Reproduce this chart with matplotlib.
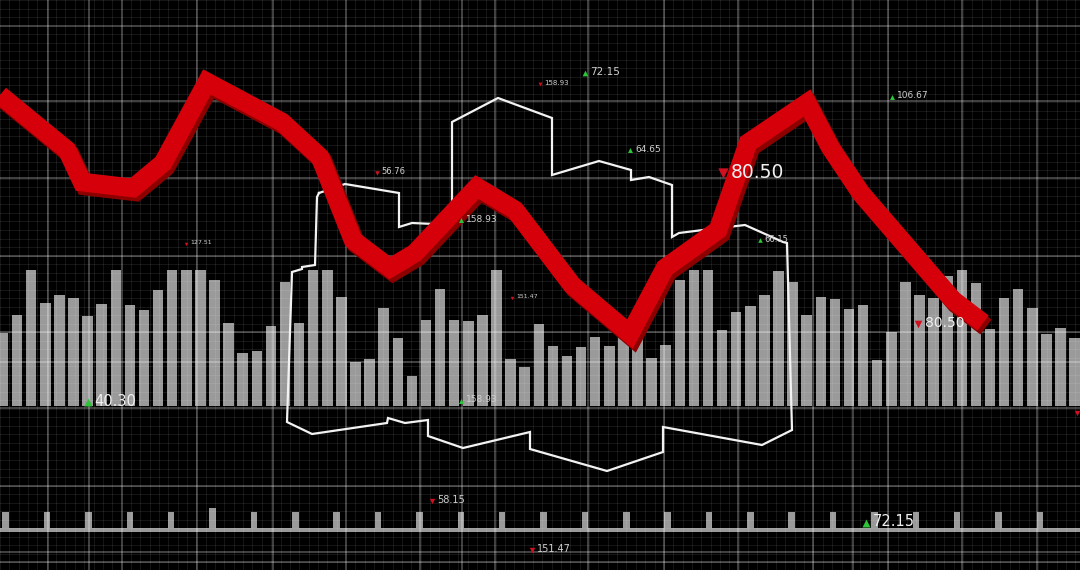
import numpy as np
import matplotlib
matplotlib.use('Agg')
import matplotlib.pyplot as plt

# ---- data ----
# main gray bars (height above the baseline)
bar_heights = [73, 91, 136, 103, 111, 108, 90, 102, 136, 101, 96, 116, 136, 136, 136, 126,
               83, 53, 55, 80, 124, 83, 136, 136, 109, 44, 47, 98, 68, 30, 86, 117,
               86, 85, 91, 136, 47, 39, 82, 60, 50, 59, 69, 60, 69, 70, 48, 61,
               126, 136, 136, 76, 94, 100, 111, 135, 124, 91, 109, 107, 97, 101, 46,
               74, 124, 111, 108, 130, 136, 123, 77, 108, 117, 98, 72, 78, 68]

# bottom comb ticks
comb_heights = [17, 17, 17, 17, 17, 21, 17, 17, 17, 17, 17, 17, 17,
                17, 17, 17, 17, 17, 17, 17, 17, 17, 17, 17, 17, 17]

# red trend line
line_x = [0, 67, 82, 133, 163, 207, 282, 320, 353, 390, 415, 477, 515, 572,
          630, 665, 718, 748, 807, 830, 860, 953, 983]
line_y = [95, 150, 182, 188, 163, 82, 122, 157, 240, 268, 253, 187, 210, 285,
          334, 268, 230, 143, 103, 147, 192, 300, 323]

# white outline shape
shape_x = [319, 345, 399, 399, 412, 434, 452, 452, 498, 552, 552, 599, 631, 631, 649,
           672, 672, 679, 703, 745, 783, 787, 792, 762, 663, 663, 607, 530, 530, 463,
           428, 428, 405, 388, 387, 312, 287, 292, 302, 302, 315, 317]
shape_y = [193, 184, 193, 227, 223, 224, 222, 122, 98, 118, 175, 161, 170, 180, 177,
           185, 237, 233, 230, 225, 242, 243, 430, 445, 427, 452, 471, 449, 432, 448,
           436, 420, 423, 418, 423, 434, 422, 272, 269, 267, 265, 197]

# value tags
tag_text = ['40.30', '80.50', '80.50', '72.15', '72.15', '106.67', '64.65', '158.93',
            '158.93', '56.76', '127.51', '151.47', '158.93', '66.15', '58.15', '151.47', '']
tag_up = [True, False, False, True, True, True, True, True,
          True, False, False, False, False, True, False, False, False]

# ---- figure ----
W, H = 1080, 570
fig = plt.figure(figsize=(10.8, 5.7), dpi=100)
fig.patch.set_facecolor('black')

# bars layer (index scale)
ax_bar = fig.add_axes([0, 0, 1, 1])
ax_bar.set_facecolor('#030303')
pitch = 14.1
ax_bar.set_xlim(-3 / pitch, (W - 3) / pitch)
ax_bar.set_ylim(H, 0)
idx = np.arange(len(bar_heights))
ax_bar.bar(idx, -np.array(bar_heights), bottom=405.5, width=0.75,
           color='#9b9a9b', edgecolor='none')
ax_bar.axis('off')

# comb layer
ax_comb = fig.add_axes([0, 0, 1, 1])
ax_comb.patch.set_alpha(0)
cp = 41.37
ax_comb.set_xlim(-5.7 / cp, (W - 5.7) / cp)
ax_comb.set_ylim(H, 0)
ax_comb.bar(np.arange(len(comb_heights)), -np.array(comb_heights), bottom=529,
            width=6.5 / cp, color='#9a9a9a', edgecolor='none')
ax_comb.axhspan(527.5, 532, color='#9a9a9a', lw=0)
ax_comb.axis('off')

# grid layer (pixel scale)
ax_grid = fig.add_axes([0, 0, 1, 1])
ax_grid.patch.set_alpha(0)
ax_grid.set_xlim(0, W)
ax_grid.set_ylim(H, 0)
major_v = [45, 86, 119, 195, 271, 344, 418, 460, 493, 587, 663, 737, 812, 852, 887, 962, 1037]
major_h = [21, 97, 175, 253, 330, 360, 407, 485, 552, 562]
ax_grid.set_xticks(major_v)
ax_grid.set_yticks(major_h)
ax_grid.set_xticks(np.arange(44 - 9.375 * 5, W, 9.375), minor=True)
ax_grid.set_yticks(np.arange(21 - 8.59 * 3, H, 8.59), minor=True)
ax_grid.grid(which='minor', color='white', alpha=0.085, lw=0.8)
ax_grid.grid(which='major', color='white', alpha=0.33, lw=1.1)
ax_grid.tick_params(which='both', length=0, labelbottom=False, labelleft=False)
for s in ax_grid.spines.values():
    s.set_visible(False)

# overlay: outline, red line, tags
ax = fig.add_axes([0, 0, 1, 1])
ax.patch.set_alpha(0)
ax.set_xlim(0, W)
ax.set_ylim(H, 0)
ax.axis('off')

ax.plot(shape_x + shape_x[:1], shape_y + shape_y[:1], color='#f2f2f2', lw=1.6,
        solid_joinstyle='miter')

lx = np.array(line_x)
ly = np.array(line_y)
ax.plot(lx + 3, ly + 4, color='#8c0000', lw=13.5, solid_joinstyle='miter',
        solid_capstyle='butt')
ax.plot(lx, ly, color='#d6000b', lw=13.5, solid_joinstyle='miter',
        solid_capstyle='butt')

tag_x = [88, 723, 918, 866, 585, 892, 630, 461, 461, 377, 186, 512, 540, 760, 432, 532, 1077]
tag_y = [401, 172, 323, 522, 72, 96, 149, 219, 400, 172, 243, 297, 83, 239, 500, 549, 412]
tag_size = [10.5, 13.5, 10, 10.5, 7.5, 6.5, 6.5, 6.5, 6.5, 6, 4.5, 4.5, 5, 6, 7, 7, 7]
for t, x, y, s, up in zip(tag_text, tag_x, tag_y, tag_size, tag_up):
    mcol = '#2ec43a' if up else '#d01020'
    ax.scatter([x], [y + 1], marker='^' if up else 'v', s=(s * 0.55) ** 2,
               color=mcol, lw=0, zorder=5)
    if t:
        tcol = '#f0f0f0' if s >= 9 else '#cfcfcf'
        ax.text(x + s * 0.45 + 2, y, t, color=tcol, fontsize=s, va='center', ha='left',
                family='DejaVu Sans', zorder=5)

fig.savefig('out.png', dpi=100, facecolor='black')
